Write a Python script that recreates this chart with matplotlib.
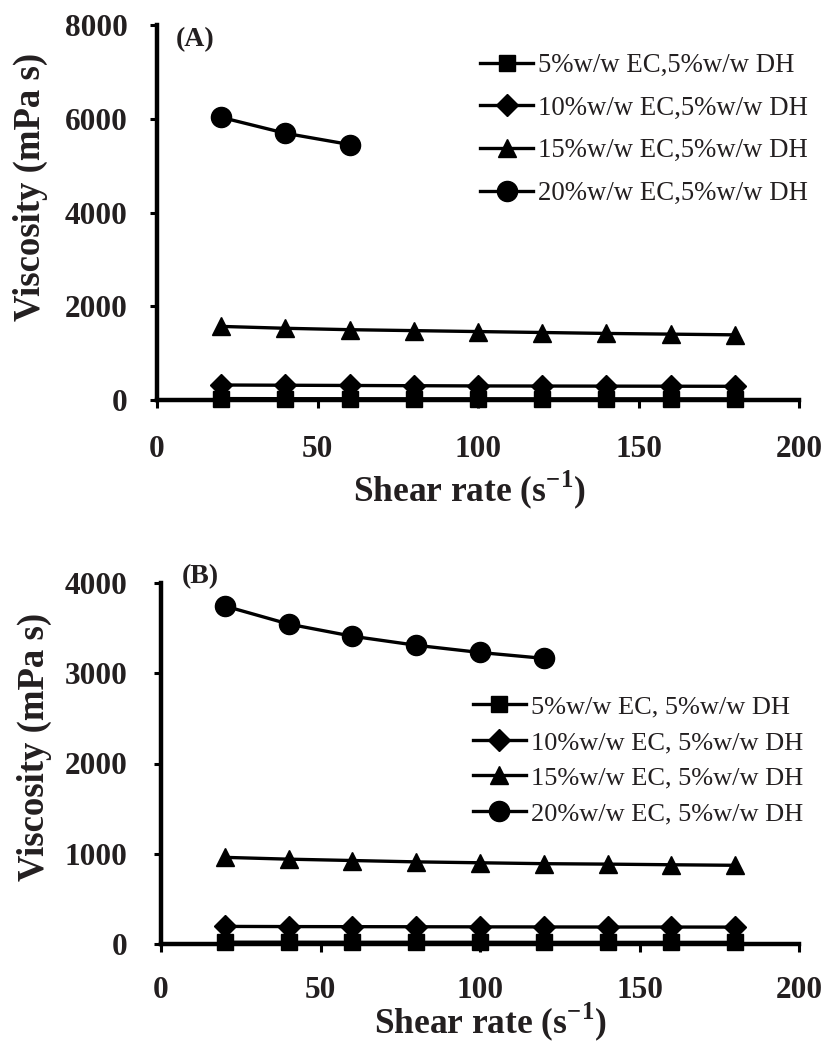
import numpy as np
import matplotlib
matplotlib.use("Agg")
import matplotlib.pyplot as plt

plt.rcParams.update({
    "font.family": "serif",
    "font.serif": ["Liberation Serif", "DejaVu Serif"],
    "mathtext.fontset": "custom",
    "mathtext.rm": "Liberation Serif",
    "mathtext.bf": "Liberation Serif:bold",
    "axes.linewidth": 3.2,
})

# shear rate (s^-1)
shear_a = [20, 40, 60, 80, 100, 120, 140, 160, 180]
shear_b = [20, 40, 60, 80, 100, 120, 140, 160, 180]

# panel A viscosity (mPa s)
a_5 = [30, 28, 27, 26, 26, 25, 25, 25, 24]
a_10 = [320, 315, 310, 305, 300, 298, 296, 294, 292]
a_15 = [1570, 1530, 1500, 1480, 1460, 1440, 1420, 1405, 1390]
a_20 = [6030, 5690, 5450]

# panel B viscosity (mPa s)
b_5 = [20, 20, 19, 19, 19, 18, 18, 18, 18]
b_10 = [195, 193, 192, 191, 190, 189, 188, 188, 187]
b_15 = [960, 940, 925, 910, 900, 890, 885, 878, 872]
b_20 = [3745, 3545, 3410, 3310, 3230, 3165]

labels_a = ["5%w/w EC,5%w/w DH", "10%w/w EC,5%w/w DH",
            "15%w/w EC,5%w/w DH", "20%w/w EC,5%w/w DH"]
labels_b = ["5%w/w EC, 5%w/w DH", "10%w/w EC, 5%w/w DH",
            "15%w/w EC, 5%w/w DH", "20%w/w EC, 5%w/w DH"]

markers = [("s", 12), ("D", 11.5), ("^", 13), ("o", 14.5)]
TXT = "#231f20"

W, H = 830, 1041
fig = plt.figure(figsize=(W / 100, H / 100), dpi=100)


def px_axes(left, right, top, bottom):
    return fig.add_axes([left / W, 1 - bottom / H, (right - left) / W, (bottom - top) / H])


def style(ax, ymax, ystep, ypad, xpad):
    ax.set_xlim(0, 200)
    ax.set_ylim(0, ymax)
    ax.set_xticks([0, 50, 100, 150, 200])
    ax.set_yticks(np.arange(0, ymax + 1, ystep))
    for s in ["top", "right"]:
        ax.spines[s].set_visible(False)
    ax.tick_params(axis="y", direction="out", length=5, width=2.2, pad=ypad, labelsize=22.5)
    ax.tick_params(axis="x", direction="out", length=6, width=2.2, pad=xpad, labelsize=22.5)
    for t in ax.get_xticklabels() + ax.get_yticklabels():
        t.set_fontweight("bold")
        t.set_color(TXT)
    ax.set_ylabel("Viscosity (mPa s)", fontsize=26.5, fontweight="bold", color=TXT)
    ax.set_xlabel(r"Shear rate (s$^{\mathbf{-1}}$)", fontsize=25.5, fontweight="bold",
                  color=TXT)


def draw(ax, xs, series, labels):
    for ys, lab, (m, ms) in zip(series, labels, markers):
        ax.plot(xs[:len(ys)], ys, color="black", lw=2.4, marker=m, ms=ms,
                label=lab, clip_on=False, zorder=3)


# panel A
axa = px_axes(157, 799, 25, 400)
draw(axa, shear_a, [a_5, a_10, a_15, a_20], labels_a)
style(axa, 8000, 2000, 16, 19)
axa.yaxis.set_label_coords((48 - 157) / 642, (400 - 187) / 375)
axa.xaxis.set_label_coords(0.487, (400 - 468) / 375)
axa.text(176 / W, 1 - 40 / H, "(A)", transform=fig.transFigure, fontsize=20,
         fontweight="bold", color=TXT, va="center")
axa.legend(loc="upper left", bbox_to_anchor=(480 / W, 1 - 53 / H),
           bbox_transform=fig.transFigure, frameon=False, fontsize=19.3,
           handlelength=1.98, handletextpad=0.19, labelspacing=0.66,
           borderpad=0, borderaxespad=0, labelcolor=TXT)

# panel B
axb = px_axes(161, 799, 583, 944)
draw(axb, shear_b, [b_5, b_10, b_15, b_20], labels_b)
style(axb, 4000, 1000, 19, 17)
axb.yaxis.set_label_coords((52 - 161) / 638, (944 - 747) / 361)
axb.xaxis.set_label_coords((490 - 161) / 638, (944 - 1000) / 361)
axb.text(182 / W, 1 - 577 / H, "(B)", transform=fig.transFigure, fontsize=20,
         fontweight="bold", color=TXT, va="center")
axb.legend(loc="upper left", bbox_to_anchor=(473 / W, 1 - 695 / H),
           bbox_transform=fig.transFigure, frameon=False, fontsize=19,
           handlelength=2.0, handletextpad=0.19, labelspacing=0.46,
           borderpad=0, borderaxespad=0, labelcolor=TXT)

fig.savefig("out.png", dpi=100, facecolor="white")
